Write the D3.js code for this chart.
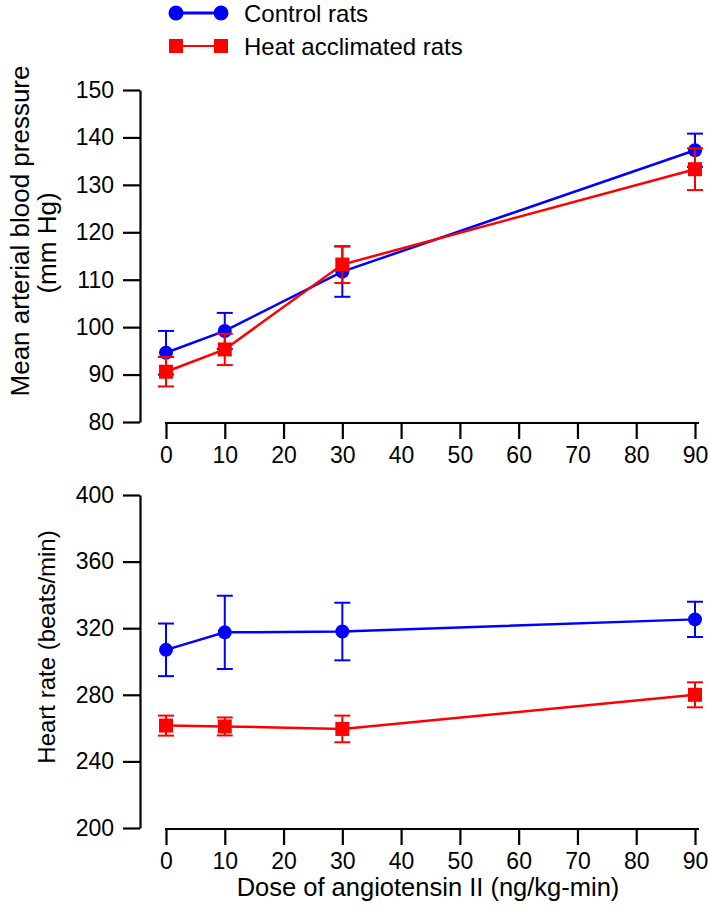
<!DOCTYPE html>
<html><head><meta charset="utf-8">
<script src="https://cdn.jsdelivr.net/npm/d3@7"></script>
<style>body{margin:0;background:#fff} text{font-family:"Liberation Sans",Arial,Helvetica,sans-serif;fill:#000}</style>
</head><body><svg id="c" width="709" height="914"></svg>
<script>
// ---- data ----
const doses = [0, 10, 30, 90];
const xTicks = [0, 10, 20, 30, 40, 50, 60, 70, 80, 90];
const seriesNames = ["Control rats", "Heat acclimated rats"];
const mapControl = [94.6, 99.2, 111.7, 137.3];
const mapControlErr = [4.6, 3.8, 5.3, 3.5];
const mapHeat = [90.6, 95.3, 113.2, 133.3];
const mapHeatErr = [3.1, 3.3, 3.9, 4.4];
const hrControl = [307, 317.5, 318, 325.3];
const hrControlErr = [15.8, 22, 17.3, 10.6];
const hrHeat = [261.5, 261, 259.5, 280];
const hrHeatErr = [6, 5.4, 8, 7.5];
const mapTicks = [80, 90, 100, 110, 120, 130, 140, 150];
const hrTicks = [200, 240, 280, 320, 360, 400];
const xLabel = "Dose of angiotensin II (ng/kg-min)";
const mapLabel = ["Mean arterial blood pressure", "(mm Hg)"];
const hrLabel = "Heart rate (beats/min)";

const BLUE = "#0000ff", RED = "#ff0000";
const svg = d3.select("#c");
const x = d3.scaleLinear().domain([0, 90]).range([166, 695]);

function panel(opts) {
  const y = d3.scaleLinear().domain(opts.domain).range(opts.range);
  const g = svg.append("g");
  const ya = g.append("g").attr("transform", "translate(140,0)")
    .call(d3.axisLeft(y).tickValues(opts.ticks).tickSize(17).tickSizeOuter(0).tickPadding(9));
  const xa = g.append("g").attr("transform", `translate(0,${opts.range[0] + 1})`)
    .call(d3.axisBottom(x).tickValues(xTicks).tickSize(16).tickSizeOuter(0).tickPadding(8));
  xa.select(".domain").remove();
  xa.append("line").attr("x1", x(0) - 1).attr("x2", x(90) + 4).attr("stroke", "#000").attr("stroke-width", 2.2);
  [ya, xa].forEach(a => {
    a.selectAll(".domain").attr("stroke-width", 2.2);
    a.selectAll(".tick line").attr("stroke-width", 2.2);
    a.selectAll("text").style("font-size", "23px").attr("fill", "#000");
  });
  opts.series.forEach(s => {
    const sg = g.append("g");
    doses.forEach((d, i) => {
      const cx = x(d), y1 = y(s.v[i] + s.e[i]), y2 = y(s.v[i] - s.e[i]);
      sg.append("line").attr("x1", cx).attr("x2", cx).attr("y1", y1).attr("y2", y2).attr("stroke", s.c).attr("stroke-width", 2);
      [y1, y2].forEach(yy => sg.append("line").attr("x1", cx - 8).attr("x2", cx + 8).attr("y1", yy).attr("y2", yy).attr("stroke", s.c).attr("stroke-width", 2));
    });
    sg.append("path").datum(doses.map((d, i) => [x(d), y(s.v[i])]))
      .attr("d", d3.line()).attr("fill", "none").attr("stroke", s.c).attr("stroke-width", 2.5);
    doses.forEach((d, i) => {
      if (s.shape === "circle") sg.append("circle").attr("cx", x(d)).attr("cy", y(s.v[i])).attr("r", 7).attr("fill", s.c);
      else sg.append("rect").attr("x", x(d) - 7).attr("y", y(s.v[i]) - 7).attr("width", 14).attr("height", 14).attr("fill", s.c);
    });
  });
  return y;
}

panel({ domain: [80, 150], range: [422, 90], ticks: mapTicks, series: [
  { v: mapControl, e: mapControlErr, c: BLUE, shape: "circle" },
  { v: mapHeat, e: mapHeatErr, c: RED, shape: "square" }] });
panel({ domain: [200, 400], range: [828, 495], ticks: hrTicks, series: [
  { v: hrControl, e: hrControlErr, c: BLUE, shape: "circle" },
  { v: hrHeat, e: hrHeatErr, c: RED, shape: "square" }] });

// axis titles
svg.append("text").attr("transform", "translate(29,231) rotate(-90)").attr("text-anchor", "middle")
  .style("font-size", "26px").text(mapLabel[0]);
svg.append("text").attr("transform", "translate(56,243) rotate(-90)").attr("text-anchor", "middle")
  .style("font-size", "26px").text(mapLabel[1]);
svg.append("text").attr("transform", "translate(55,647) rotate(-90)").attr("text-anchor", "middle")
  .style("font-size", "24px").text(hrLabel);
svg.append("text").attr("x", 428).attr("y", 896).attr("text-anchor", "middle")
  .style("font-size", "25.5px").text(xLabel);

// legend
const leg = [{ c: BLUE, shape: "circle", y: 13, w: 3 }, { c: RED, shape: "square", y: 46, w: 2 }];
leg.forEach((l, i) => {
  const lg = svg.append("g");
  lg.append("line").attr("x1", 176).attr("x2", 221).attr("y1", l.y).attr("y2", l.y).attr("stroke", l.c).attr("stroke-width", l.w);
  [176, 221].forEach(cx => {
    if (l.shape === "circle") lg.append("circle").attr("cx", cx).attr("cy", l.y).attr("r", 7.5).attr("fill", l.c);
    else lg.append("rect").attr("x", cx - 7).attr("y", l.y - 7).attr("width", 14).attr("height", 14).attr("fill", l.c);
  });
  lg.append("text").attr("x", 244).attr("y", l.y).attr("dy", "0.36em").style("font-size", "24px").text(seriesNames[i]);
});
</script></body></html>
